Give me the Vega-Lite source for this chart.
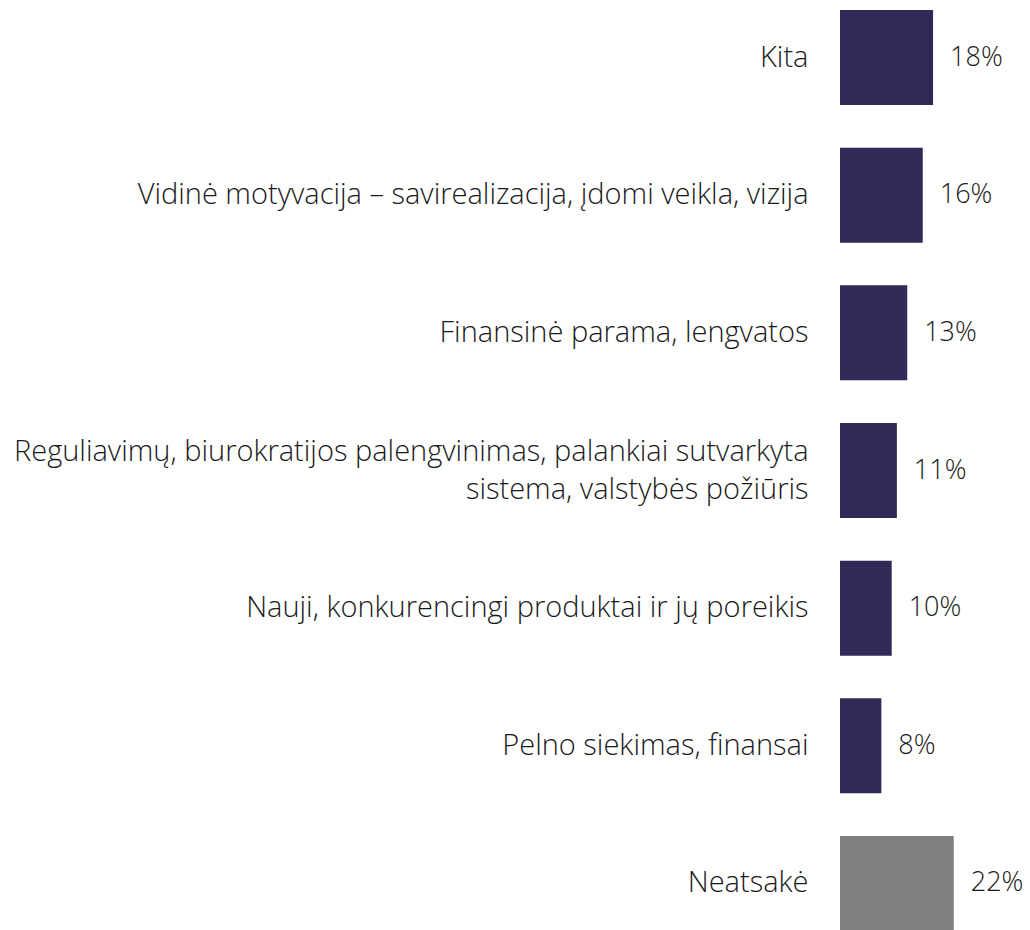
{
  "$schema": "https://vega.github.io/schema/vega-lite/v6.json",
  "autosize": "none",
  "padding": {"left": 840, "top": 0, "right": 0, "bottom": 0},
  "width": 190,
  "height": 941,
  "background": "white",
  "config": {"view": {"stroke": null}, "font": "Open Sans"},
  "data": {"values": [
    {"label": "Kita", "value": 0.18, "group": "a"},
    {"label": "Vidinė motyvacija – savirealizacija,  įdomi veikla, vizija", "value": 0.16, "group": "a"},
    {"label": "Finansinė parama, lengvatos", "value": 0.13, "group": "a"},
    {"label": "Reguliavimų, biurokratijos palengvinimas, palankiai sutvarkyta sistema, valstybės požiūris", "value": 0.11, "group": "a"},
    {"label": "Nauji, konkurencingi produktai ir jų poreikis", "value": 0.10, "group": "a"},
    {"label": "Pelno siekimas, finansai", "value": 0.08, "group": "a"},
    {"label": "Neatsakė", "value": 0.22, "group": "b"}
  ]},
  "encoding": {
    "y": {"field": "label", "type": "nominal", "sort": null,
      "scale": {"paddingInner": 0.31, "paddingOuter": 0.073},
      "axis": {"title": null, "domain": false, "ticks": false, "labelPadding": 32,
        "labelFontSize": 29, "labelFont": "Open Sans", "labelFontWeight": 300, "labelColor": "#1a1a1a",
        "labelLimit": 1000, "labelLineHeight": 38,
        "labelOffset": {"condition": {"test": "indexof(datum.label, 'sutvarkyta') > 0", "value": -19}, "value": 0},
        "labelExpr": "indexof(datum.label, 'sutvarkyta') > 0 ? ['Reguliavimų, biurokratijos palengvinimas, palankiai sutvarkyta', 'sistema, valstybės požiūris'] : datum.label"}},
    "x": {"field": "value", "type": "quantitative", "scale": {"domain": [0, 0.3675]}, "axis": null}
  },
  "layer": [
    {"mark": {"type": "bar"},
     "encoding": {"color": {"field": "group", "type": "nominal", "scale": {"domain": ["a", "b"], "range": ["#2f2a56", "#808080"]}, "legend": null}}},
    {"mark": {"type": "text", "align": "left", "baseline": "middle", "dx": 17, "fontSize": 27, "fontWeight": 300, "font": "Open Sans", "color": "#1a1a1a"},
     "encoding": {"text": {"field": "value", "type": "quantitative", "format": ".0%"}}}
  ]
}
